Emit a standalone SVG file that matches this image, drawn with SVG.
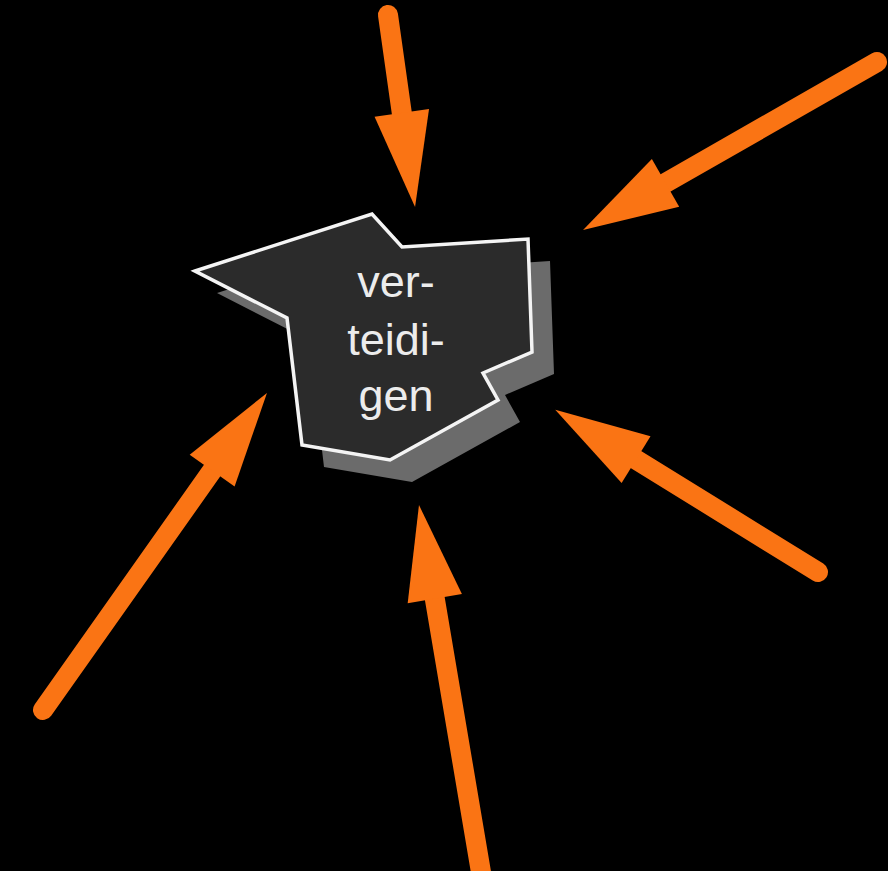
<svg xmlns="http://www.w3.org/2000/svg" width="888" height="871" viewBox="0 0 888 871">
<style>
.shaft{stroke:#FA7414;stroke-width:20;stroke-linecap:round;fill:none;marker-end:url(#head)}
.shadow{fill:#6b6b6b}
.body{fill:#2b2b2b;stroke:#f4f4f4;stroke-width:3.5;stroke-linejoin:miter}
.lbl{font-family:"Liberation Sans",Arial,Helvetica,sans-serif;font-size:45px;fill:#ececec;text-anchor:middle}
</style>
<defs>
<marker id="head" markerUnits="userSpaceOnUse" markerWidth="100" markerHeight="60" viewBox="0 -30 100 60" refX="15" refY="0" orient="auto" overflow="visible">
<path d="M0,-27.5 L95,0 L0,27.5 Z" fill="#FA7414"/>
</marker>
</defs>
<rect width="888" height="871" fill="#000"/>
<g id="node-verteidigen">
<polygon class="shadow" points="217,293 394,236 424,269 550,261 554,374 505,395 520,422 412,482 324,467 309,340"/>
<polygon class="body" points="195,271 372,214 402,247 528,239 532,352 483,373 498,400 390,460 302,445 287,318"/>
<text class="lbl" x="396" y="297">ver-</text>
<text class="lbl" x="396" y="355">teidi-</text>
<text class="lbl" x="396" y="411">gen</text>
</g>
<g id="connectors">
<line class="shaft" x1="388" y1="15" x2="403.9" y2="127.8"/>
<line class="shaft" x1="877" y1="62" x2="652.5" y2="190.4"/>
<line class="shaft" x1="43" y1="710" x2="220.8" y2="458.3"/>
<line class="shaft" x1="818" y1="572" x2="623.3" y2="451.7"/>
<line class="shaft" x1="484" y1="890" x2="432.3" y2="583.9"/>
</g>
</svg>
